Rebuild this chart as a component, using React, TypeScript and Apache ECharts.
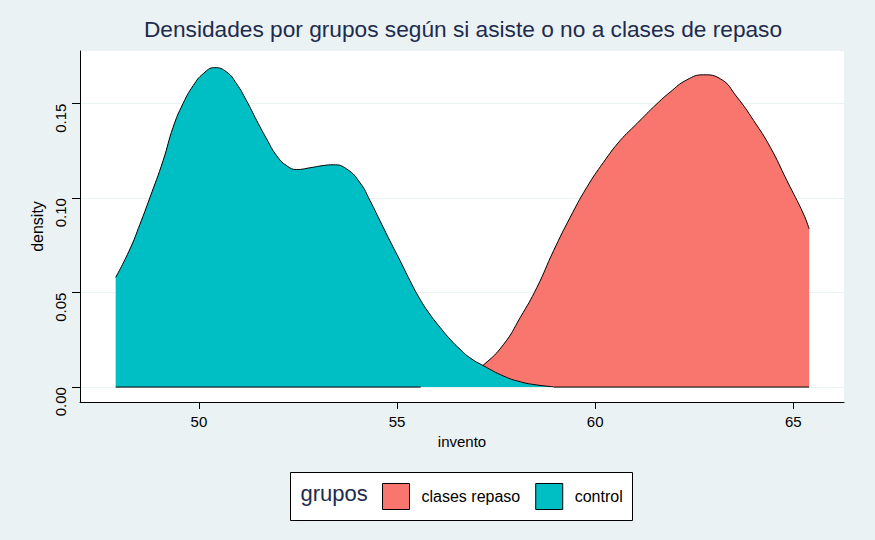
import React, { useEffect, useRef } from "react";
import * as echarts from "echarts";

const chartTitle = "Densidades por grupos según si asiste o no a clases de repaso";
const legendTitle = "grupos";
const groups = ["clases repaso", "control"];
const xName = "invento";
const yName = "density";
const xTicks = [50, 55, 60, 65];
const yTicks = [0, 0.05, 0.1, 0.15];

const controlX = [47.9, 48.26, 48.51, 48.76, 49.1, 49.35, 49.6, 49.86, 50.11, 50.4, 50.7, 50.95, 51.2, 51.46, 51.71, 51.96, 52.21, 52.47, 52.8, 53.14, 53.39, 53.73, 54.07, 54.32, 54.57, 54.82, 55.08, 55.33, 55.58, 55.83, 56.09, 56.34, 56.59, 56.84, 57.18, 57.69, 58.11, 58.53, 58.94];
const controlY = [0.058, 0.073, 0.086, 0.1, 0.12, 0.1375, 0.15, 0.1596, 0.1658, 0.169, 0.1667, 0.1605, 0.1516, 0.141, 0.1313, 0.1225, 0.1172, 0.1151, 0.116, 0.1172, 0.1176, 0.1154, 0.108, 0.0986, 0.088, 0.0774, 0.0668, 0.0562, 0.0465, 0.0385, 0.0315, 0.0253, 0.02, 0.0155, 0.0113, 0.0058, 0.0028, 0.0011, 0.0002];

const repasoX = [55.7, 56.2, 56.7, 57.18, 57.69, 58.11, 58.53, 58.95, 59.37, 59.79, 60.21, 60.63, 61.05, 61.47, 61.89, 62.32, 62.74, 63.16, 63.58, 64.0, 64.42, 64.84, 65.26, 65.4];
const repasoY = [0.0005, 0.002, 0.005, 0.0117, 0.0226, 0.0368, 0.0527, 0.0721, 0.0898, 0.1057, 0.1189, 0.1304, 0.1393, 0.1481, 0.156, 0.1626, 0.1652, 0.1631, 0.1534, 0.141, 0.1269, 0.1092, 0.0915, 0.0836];

const controlBaseX = [47.9, 55.6];
const repasoBaseX = [58.95, 65.4];

const FONT = "'Liberation Sans', Arial, sans-serif";
const RED = "#F8766D";
const TEAL = "#00BFC4";
const NAVY = "#1E2B4E";
const BG = "#EAF2F3";

export default function App() {
  const ref = useRef<HTMLDivElement>(null);
  useEffect(() => {
    document.body.style.margin = "0";
    const chart = echarts.init(ref.current!, null, { renderer: "svg" });
    const zip = (xs: number[], ys: number[]) => xs.map((x, i) => [x, ys[i]]);
    const base = (xs: number[]) => xs.map((x) => [x, 0]);
    chart.setOption({
      animation: false,
      backgroundColor: BG,
      title: {
        text: chartTitle,
        left: 458,
        top: 12,
        textAlign: "center",
        textStyle: { fontSize: 22.7, fontWeight: "normal", color: NAVY, fontFamily: FONT },
      },
      grid: {
        left: 80,
        right: 31,
        top: 51,
        bottom: 138,
        show: true,
        backgroundColor: "#fff",
        borderWidth: 0,
      },
      xAxis: {
        type: "value",
        min: 47.0,
        max: 66.28,
        name: xName,
        nameLocation: "middle",
        nameGap: 32,
        nameTextStyle: { fontSize: 15, color: "#000", fontFamily: FONT },
        axisLine: { show: true, onZero: false, lineStyle: { color: "#000", width: 1 } },
        axisTick: { show: true, length: 7, lineStyle: { color: "#000" }, customValues: xTicks },
        axisLabel: { fontSize: 15, color: "#000", fontFamily: FONT, margin: 12, customValues: xTicks },
        splitLine: { show: false },
      },
      yAxis: {
        type: "value",
        min: -0.0079,
        max: 0.1778,
        name: yName,
        nameLocation: "middle",
        nameRotate: 90,
        nameGap: 31,
        nameTextStyle: { fontSize: 16, color: "#000", fontFamily: FONT },
        axisLine: { show: true, onZero: false, lineStyle: { color: "#000", width: 1 } },
        axisTick: { show: true, length: 8, lineStyle: { color: "#000" }, customValues: yTicks },
        axisLabel: {
          fontSize: 15,
          color: "#000",
          fontFamily: FONT,
          rotate: 90,
          margin: 12,
          align: "right",
          verticalAlign: "bottom",
          customValues: yTicks,
          formatter: (v: number) => v.toFixed(2),
        },
        splitLine: { show: true, lineStyle: { color: BG, width: 1 } },
      },
      legend: {
        data: groups,
        left: 382,
        top: 483,
        padding: 0,
        itemWidth: 27,
        itemHeight: 26,
        itemGap: 15,
        icon: "rect",
        z: 10,
        itemStyle: { borderColor: "#000", borderWidth: 1 },
        textStyle: { fontSize: 16, color: "#000", fontFamily: FONT, padding: [0, 0, 0, 7] },
      },
      graphic: [
        {
          type: "rect",
          z: 1,
          shape: { x: 290.5, y: 472.5, width: 342, height: 48 },
          style: { fill: "#fff", stroke: "#000", lineWidth: 1 },
        },
        {
          type: "text",
          z: 2,
          x: 300.5,
          y: 493,
          style: {
            text: legendTitle,
            fontSize: 22,
            fontFamily: FONT,
            fill: NAVY,
            verticalAlign: "middle",
          },
        },
      ],
      series: [
        {
          name: groups[0],
          type: "line",
          data: zip(repasoX, repasoY),
          smooth: 0.5,
          symbol: "none",
          lineStyle: { color: "#000", width: 1 },
          itemStyle: { color: RED },
          areaStyle: { color: RED, opacity: 1 },
          z: 2,
        },
        {
          name: groups[1],
          type: "line",
          data: zip(controlX, controlY),
          smooth: 0.5,
          symbol: "none",
          lineStyle: { color: "#000", width: 1 },
          itemStyle: { color: TEAL },
          areaStyle: { color: TEAL, opacity: 1 },
          z: 3,
        },
        {
          name: "base1",
          type: "line",
          data: base(controlBaseX),
          symbol: "none",
          silent: true,
          lineStyle: { color: "#000", width: 1 },
          z: 4,
        },
        {
          name: "base2",
          type: "line",
          data: base(repasoBaseX),
          symbol: "none",
          silent: true,
          lineStyle: { color: "#000", width: 1 },
          z: 4,
        },
      ],
    });
    return () => chart.dispose();
  }, []);
  return <div ref={ref} style={{ width: 875, height: 540 }} />;
}
